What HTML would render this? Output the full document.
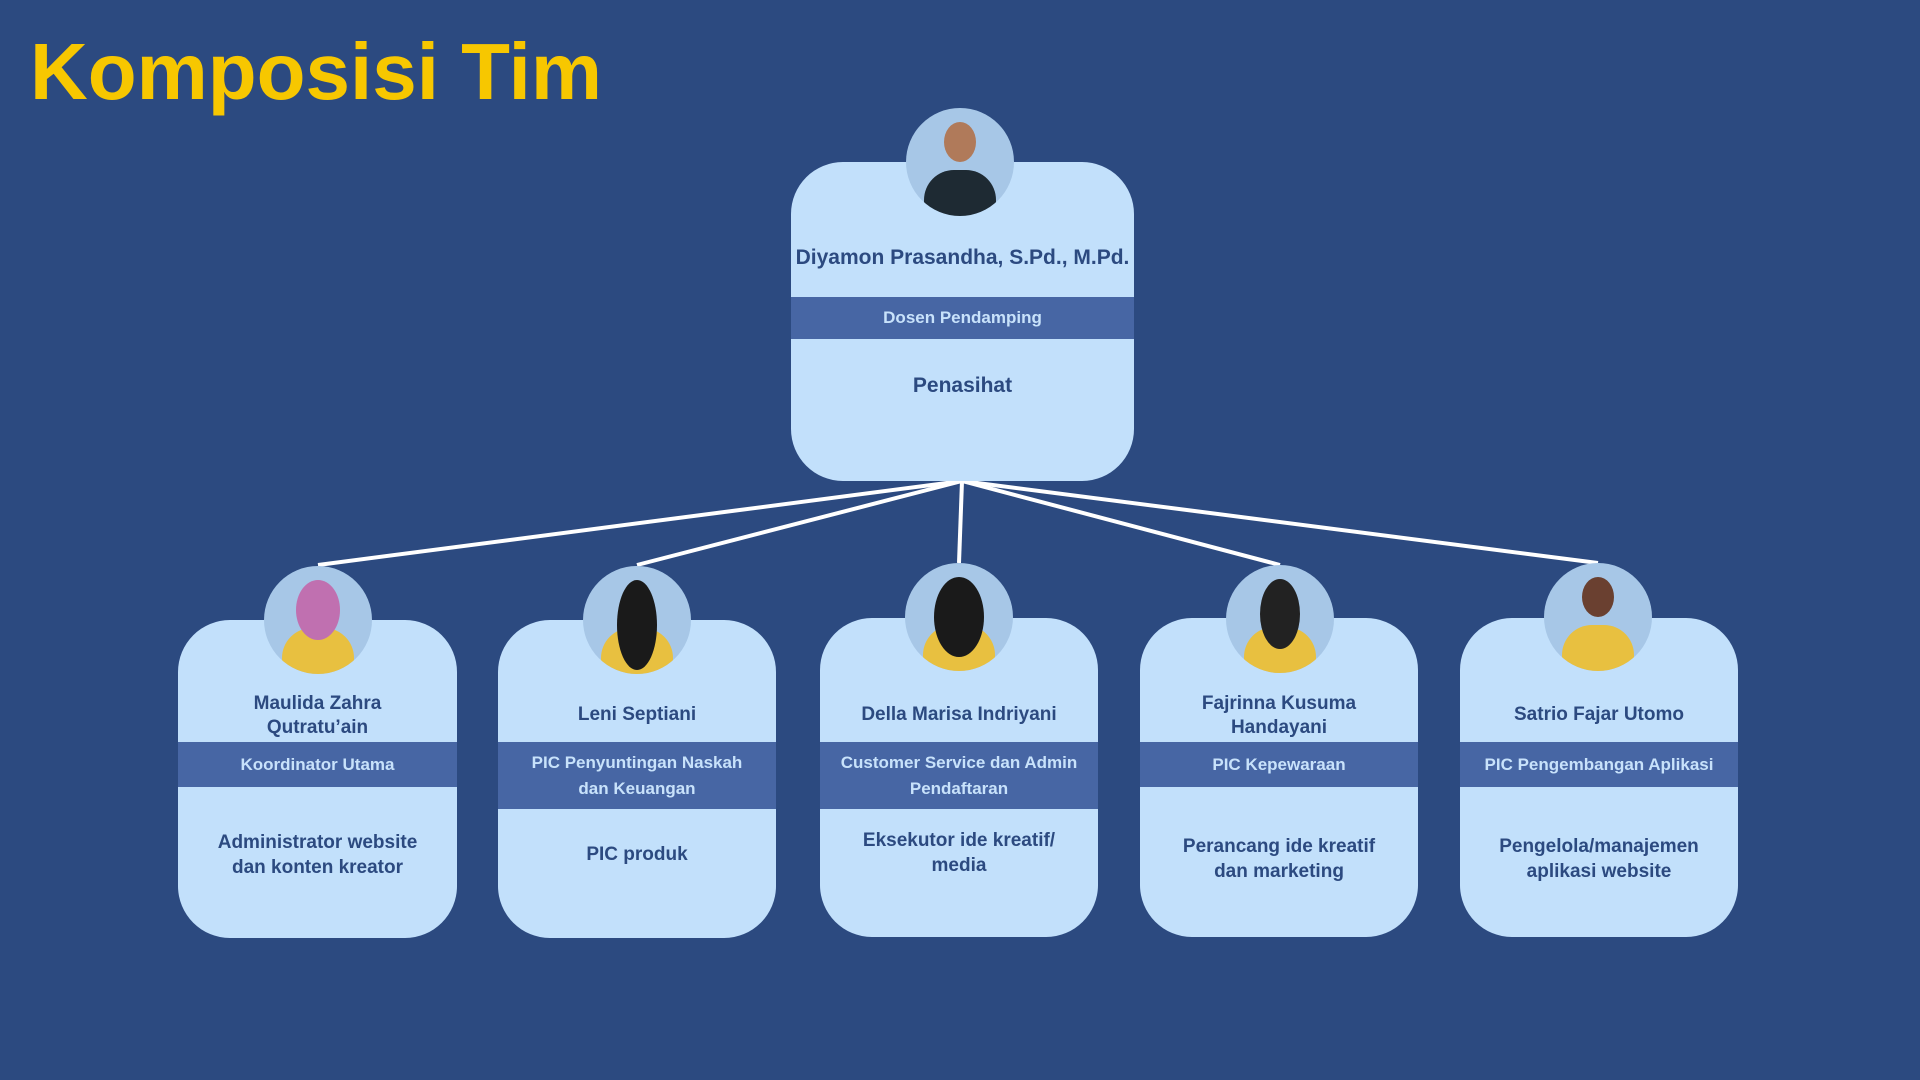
<!DOCTYPE html>
<html><head><meta charset="utf-8"><style>
*{margin:0;padding:0;box-sizing:border-box}
body{width:1920px;height:1080px;background:#2c4a80;position:relative;overflow:hidden;font-family:"Liberation Sans",sans-serif}
.title{position:absolute;left:30px;top:26px;font-size:80px;font-weight:bold;color:#f7c700;letter-spacing:0px}
.card{position:absolute;background:#c2e0fb;border-radius:52px;overflow:hidden}
.band{position:absolute;left:0;right:0;background:#4766a4;color:#c8e2fb;font-weight:bold;font-size:17px;display:flex;align-items:center;justify-content:center;text-align:center;line-height:26px}
.t{position:absolute;left:0;right:0;text-align:center;color:#2c4a80;font-weight:bold}
.ph{position:absolute;width:108px;height:108px;border-radius:50%;background:#a7c7e7;overflow:hidden}
.ph .b{position:absolute;left:18px;top:62px;width:72px;height:60px;border-radius:30px 30px 0 0}
.ph .h{position:absolute;left:38px;top:14px;width:32px;height:40px;border-radius:50%}
svg{position:absolute;left:0;top:0}
</style></head><body>
<div class="title">Komposisi Tim</div>
<svg width="1920" height="1080"><g stroke="#fff" stroke-width="4" fill="none">
<line x1="962" y1="481" x2="318" y2="565"/><line x1="962" y1="481" x2="637" y2="565"/>
<line x1="962" y1="481" x2="959" y2="563"/><line x1="962" y1="481" x2="1280" y2="565"/>
<line x1="962" y1="481" x2="1598" y2="563"/></g></svg>

<div class="card" style="left:791px;top:162px;width:343px;height:319px">
<div class="t" style="top:84px;font-size:21px">Diyamon Prasandha, S.Pd., M.Pd.</div>
<div class="band" style="top:135px;height:42px">Dosen Pendamping</div>
<div class="t" style="top:212px;font-size:21px">Penasihat</div></div>
<div class="ph" style="left:906px;top:108px"><div class="b" style="background:#1e2a33"></div><div class="h" style="background:#b07a5a"></div></div>

<div class="card" style="left:178px;top:620px;width:279px;height:318px">
<div class="t" style="top:72px;font-size:19px;line-height:24px">Maulida Zahra<br>Qutratu’ain</div>
<div class="band" style="top:122px;height:45px">Koordinator Utama</div>
<div class="t" style="top:210px;font-size:19px;line-height:25px">Administrator website<br>dan konten kreator</div></div>
<div class="ph" style="left:264px;top:566px"><div class="b" style="background:#e8c040"></div><div class="h" style="background:#c070b0;width:44px;left:32px;height:60px"></div></div>

<div class="card" style="left:498px;top:620px;width:278px;height:318px">
<div class="t" style="top:84px;font-size:19px">Leni Septiani</div>
<div class="band" style="top:122px;height:67px">PIC Penyuntingan Naskah<br>dan Keuangan</div>
<div class="t" style="top:224px;font-size:19px">PIC produk</div></div>
<div class="ph" style="left:583px;top:566px"><div class="b" style="background:#e8c040"></div><div class="h" style="background:#1a1a1a;width:40px;left:34px;height:90px"></div></div>

<div class="card" style="left:820px;top:618px;width:278px;height:319px">
<div class="t" style="top:86px;font-size:19px">Della Marisa Indriyani</div>
<div class="band" style="top:124px;height:67px">Customer Service dan Admin<br>Pendaftaran</div>
<div class="t" style="top:210px;font-size:19px;line-height:25px">Eksekutor ide kreatif/<br>media</div></div>
<div class="ph" style="left:905px;top:563px"><div class="b" style="background:#e8c040"></div><div class="h" style="background:#1a1a1a;width:50px;left:29px;height:80px"></div></div>

<div class="card" style="left:1140px;top:618px;width:278px;height:319px">
<div class="t" style="top:74px;font-size:19px;line-height:24px">Fajrinna Kusuma<br>Handayani</div>
<div class="band" style="top:124px;height:45px">PIC Kepewaraan</div>
<div class="t" style="top:216px;font-size:19px;line-height:25px">Perancang ide kreatif<br>dan marketing</div></div>
<div class="ph" style="left:1226px;top:565px"><div class="b" style="background:#e8c040"></div><div class="h" style="background:#222;width:40px;left:34px;height:70px"></div></div>

<div class="card" style="left:1460px;top:618px;width:278px;height:319px">
<div class="t" style="top:86px;font-size:19px">Satrio Fajar Utomo</div>
<div class="band" style="top:124px;height:45px">PIC Pengembangan Aplikasi</div>
<div class="t" style="top:216px;font-size:19px;line-height:25px">Pengelola/manajemen<br>aplikasi website</div></div>
<div class="ph" style="left:1544px;top:563px"><div class="b" style="background:#e8c040"></div><div class="h" style="background:#6a4030"></div></div>
</body></html>
